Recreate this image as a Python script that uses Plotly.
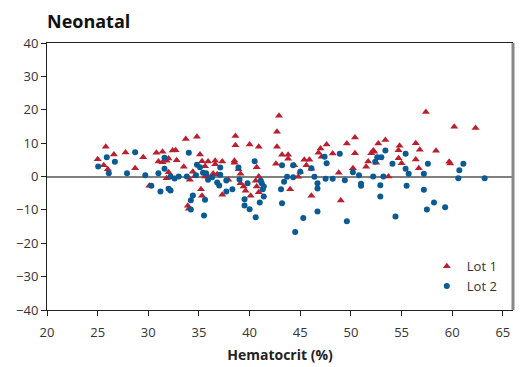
import plotly.graph_objects as go

lot1_x = [25.0, 25.8, 26.6, 25.6, 26.0, 27.75, 29.5, 28.7, 30.1, 30.8, 31.4, 31.0, 31.4, 31.8, 32.0, 32.4, 32.7, 32.8, 33.5, 33.7,
          34.8, 35.1, 35.3, 35.6, 35.9, 32.0, 31.8, 34.1, 34.4, 34.6, 35.2, 35.3, 33.9, 34.0, 35.6,
          42.9, 42.7, 42.7, 38.6, 38.6, 40.0, 40.9, 36.6, 37.3, 36.6, 36.4, 36.8, 35.9, 37.9, 38.5, 38.5, 38.9, 39.1, 39.1,
          39.4, 39.6, 40.1, 40.6, 40.7, 40.9, 40.7, 40.9, 37.3, 42.6, 43.2, 43.8, 43.8, 44.4, 44.0, 45.0, 44.8, 45.4, 45.9,
          45.6, 46.1, 46.1, 46.8, 47.0, 47.6, 47.1, 48.2, 48.8, 49.0, 49.6,
          50.4, 50.4, 50.2, 51.5, 51.7, 52.0, 52.2, 52.3, 52.5, 52.7, 53.4, 53.7, 54.8, 54.7, 54.7, 55.0, 56.4, 56.8, 56.4,
          56.7, 57.4, 58.4, 59.7, 59.8, 60.2, 62.3]
lot1_y = [5.2, 8.9, 6.6, 3.4, 2.2, 7.2, 5.8, 2.5, -2.8, 7.1, 7.4, 4.5, 4.3, 4.7, 5.4, 7.8, 7.9, 4.9, 2.9, 11.2,
          11.9, 6.6, 4.6, 3.1, 4.5, 1.3, -0.5, -1.0, 1.4, 0.1, -3.8, -5.8, -8.8, -9.7, 0.0,
          18.2, 13.4, 8.9, 12.1, 9.4, 9.6, 8.9, 4.7, 4.5, 3.7, 0.9, 0.7, 0.0, -1.0, 4.7, 4.1, 2.2, 0.8, -2.0,
          -3.0, -4.3, -5.8, -1.3, 2.8, 0.0, -3.0, -4.7, -5.5, 3.8, 6.5, 6.5, 5.3, 3.4, -3.8, 1.4, -0.1, 5.0, 5.0,
          3.4, 2.3, -5.8, 7.1, 8.4, 9.6, 5.9, 6.9, 1.1, -7.2, 9.9,
          11.7, 7.0, 2.5, 2.9, 4.5, 7.0, 7.8, 7.4, 4.1, 9.9, 10.9, 0.0, 9.2, 7.9, 5.5, 4.0, 10.0, 8.0, 5.1,
          2.5, 19.3, 7.7, 4.4, 3.9, 14.9, 14.5]

lot2_x = [25.05, 25.9, 26.7, 26.1, 27.9, 28.7, 29.7, 30.3, 31.0, 31.2, 31.6, 31.6, 32.0, 32.2, 32.2, 32.6, 33.0, 33.8,
          34.0, 34.4, 34.2, 34.2, 34.8, 35.1, 35.4, 35.7, 34.7, 35.5, 35.6, 35.9,
          36.3, 36.8, 37.0, 37.1, 37.1, 37.7, 37.7, 38.3, 38.9, 39.0, 39.5, 39.5, 40.0, 39.8, 40.5, 40.6, 41.0, 41.1, 41.2,
          41.3, 41.4, 41.4, 43.1, 43.2, 43.2, 43.4, 43.7, 44.3, 44.3, 44.5, 45.3, 45.0, 46.1, 46.4, 46.7, 46.7, 46.7,
          47.5, 47.4, 47.6, 48.2, 48.9, 49.4, 49.6,
          50.2, 50.8, 51.0, 51.0, 52.2, 52.4, 52.6, 53.0, 53.4, 52.9, 53.2, 52.9, 54.1, 54.4, 55.4, 55.4, 55.7, 55.5,
          57.2, 57.2, 57.6, 57.5, 58.2, 59.3, 60.6, 60.7, 61.1, 63.2]
lot2_y = [3.0, 5.8, 4.4, 1.0, 1.0, 7.3, 0.4, -2.8, 1.0, -4.5, 5.6, 2.3, -3.7, -4.2, 0.0, -0.6, 0.0, 0.0,
          7.1, -5.7, -7.1, -9.9, 3.5, 2.8, 1.1, 1.0, 0.4, -11.7, -7.0, -1.0,
          -0.2, -1.8, -2.7, 2.7, 0.5, -1.2, -4.5, -3.8, 2.7, -0.9, -6.8, -8.7, -9.8, -2.0, 4.6, -12.2, -7.8, -1.3, -2.0,
          -3.8, -6.0, -3.0, -3.8, -8.0, 3.4, -1.6, -0.1, -0.2, 3.4, -16.6, -12.4, 1.4, 2.5, -0.1, -2.0, -3.6, -10.5,
          -0.7, 5.9, 4.0, -0.7, 6.8, -1.1, -13.4,
          1.3, 0.4, -2.2, -2.8, 0.0, 4.4, 5.8, 5.8, 7.8, -2.6, 0.0, -6.0, 3.8, -12.0, 6.8, 2.3, 0.8, -2.8,
          0.8, -4.0, 3.8, -9.9, -7.8, -9.2, -0.5, 1.9, 3.8, -0.5]

x_ticks = [20, 25, 30, 35, 40, 45, 50, 55, 60, 65]
y_ticks = [-40, -30, -20, -10, 0, 10, 20, 30, 40]

RED = "#BB1E2C"
BLUE = "#0A5A94"
FONT = "Open Sans"

fig = go.Figure()
fig.add_trace(go.Scatter(x=lot1_x, y=lot1_y, mode="markers", name="Lot 1",
                         marker=dict(symbol="triangle-up", size=7, color=RED)))
fig.add_trace(go.Scatter(x=lot2_x, y=lot2_y, mode="markers", name="Lot 2",
                         marker=dict(symbol="circle", size=6, color=BLUE)))

fig.update_layout(
    width=523, height=367,
    margin=dict(l=47, r=10, t=43, b=57),
    plot_bgcolor="white", paper_bgcolor="white",
    font=dict(family=FONT, size=13, color="#333333"),
    title=dict(text="<b>Neonatal</b>", x=0, xref="paper", xanchor="left",
               y=0.94, yanchor="middle", font=dict(family=FONT, size=18, color="#111111")),
    showlegend=True,
    legend=dict(x=0.815, y=0.22, xanchor="left", yanchor="top", bgcolor="rgba(0,0,0,0)",
                font=dict(family=FONT, size=13, color="#333333"), itemwidth=30, tracegroupgap=2),
    xaxis=dict(range=[20, 66], tickvals=x_ticks, ticktext=[str(v) for v in x_ticks], automargin=False,
               showgrid=False, zeroline=False, showline=True, linecolor="#222222", linewidth=1,
               mirror=True, ticks="outside", ticklen=5, tickcolor="#222222", ticklabelstandoff=5,
               title=dict(text="<b>Hematocrit (%)</b>", font=dict(family=FONT, size=14, color="#222222"), standoff=10)),
    yaxis=dict(range=[-40, 40], tickvals=y_ticks, ticktext=[str(v).replace("-", "\u2212") for v in y_ticks],
               automargin=False,
               showgrid=False, zeroline=True, zerolinecolor="#808080", zerolinewidth=2,
               showline=True, linecolor="#222222", linewidth=1,
               ticks="outside", ticklen=5, tickcolor="#222222"),
)
fig.add_shape(type="line", xref="paper", yref="paper", x0=1, x1=1, y0=0, y1=1,
              line=dict(color="#888888", width=3))

fig.write_html("out.html")
